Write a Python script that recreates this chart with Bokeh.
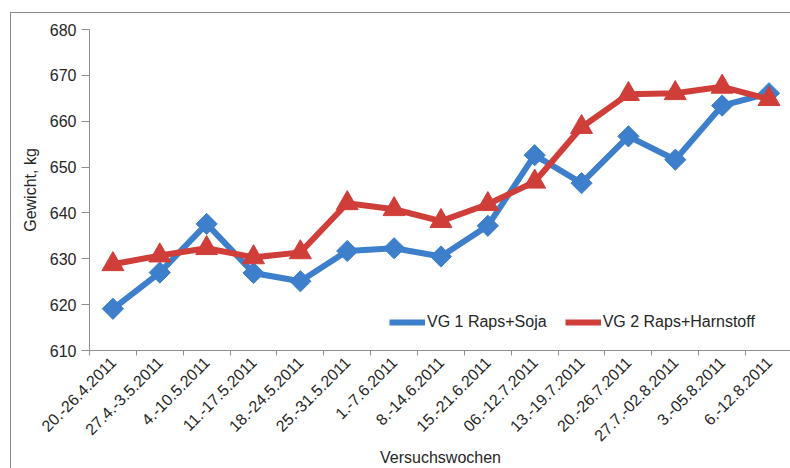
import numpy as np
from bokeh.plotting import figure
from bokeh.models import (ColumnDataSource, FixedTicker, Range1d, Legend, LegendItem)
from bokeh.embed import file_html
from bokeh.resources import INLINE

# Weekly periods of the feeding trial
weeks = ["20.-26.4.2011", "27.4.-3.5.2011", "4.-10.5.2011", "11.-17.5.2011",
         "18.-24.5.2011", "25.-31.5.2011", "1.-7.6.2011", "8.-14.6.2011",
         "15.-21.6.2011", "06.-12.7.2011", "13.-19.7.2011", "20.-26.7.2011",
         "27.7.-02.8.2011", "3.-05.8.2011", "6.-12.8.2011"]

# Mean body weight per group, kg
vg1_raps_soja = [619.1, 627.0, 637.6, 626.9, 625.1, 631.7, 632.3, 630.5,
                 637.2, 652.6, 646.5, 656.7, 651.6, 663.4, 666.1]
vg2_raps_harnstoff = [628.8, 630.7, 632.3, 630.3, 631.4, 642.1, 640.8, 638.2,
                      641.9, 646.8, 658.7, 665.9, 666.1, 667.5, 664.8]

y_ticks = [610, 620, 630, 640, 650, 660, 670, 680]

BLUE = "#3D7FCB"
RED = "#D03E3A"
TEXT = "#262626"
AXIS = "#8E8E8E"
FONT = "Liberation Sans"
FS = "16px"

n = len(weeks)
xc = [i + 0.5 for i in range(n)]
src = ColumnDataSource(dict(x=xc, vg1=vg1_raps_soja, vg2=vg2_raps_harnstoff))

p = figure(width=780, height=456, output_backend="svg", toolbar_location=None,
           x_range=Range1d(0, 14.98), y_range=Range1d(610, 680),
           min_border_left=78, min_border_right=0, min_border_top=16,
           min_border_bottom=10)
p.styles = {"margin-left": "10px", "margin-top": "12px",
            "border-left": "1px solid #8A8A8A", "border-top": "1px solid #8A8A8A"}
p.outline_line_color = None
p.grid.visible = False
p.background_fill_color = "white"
p.border_fill_color = "white"

# x axis: ticks between categories, labels at category centres
p.xaxis.ticker = FixedTicker(ticks=xc, minor_ticks=list(range(n + 1)))
p.xaxis.major_label_overrides = {x: w for x, w in zip(xc, weeks)}
p.xaxis.major_label_orientation = np.pi / 4
p.xaxis.major_tick_out = 0
p.xaxis.major_tick_in = 0
p.xaxis.minor_tick_out = 5
p.xaxis.minor_tick_in = 0
p.xaxis.minor_tick_line_color = AXIS
p.xaxis.axis_label = "Versuchswochen"
p.xaxis.axis_label_standoff = 0

p.yaxis.ticker = FixedTicker(ticks=y_ticks)
p.yaxis.minor_tick_line_color = None
p.yaxis.major_tick_out = 8
p.yaxis.major_tick_in = 0
p.yaxis.axis_label = "Gewicht, kg"
p.yaxis.axis_label_standoff = 8

for ax in (p.xaxis, p.yaxis):
    ax.axis_line_color = AXIS
    ax.major_tick_line_color = AXIS
    ax.major_label_text_font = FONT
    ax.major_label_text_font_size = FS
    ax.major_label_text_color = TEXT
    ax.axis_label_text_font = FONT
    ax.axis_label_text_font_size = FS
    ax.axis_label_text_font_style = "normal"
    ax.axis_label_text_color = TEXT
p.xaxis.major_label_standoff = 4
p.yaxis.major_label_standoff = 5

# Series
l1 = p.line("x", "vg1", source=src, line_color=BLUE, line_width=6)
p.scatter("x", "vg1", source=src, marker="square", angle=np.pi / 4, size=15,
          fill_color=BLUE, line_color=BLUE)
l2 = p.line("x", "vg2", source=src, line_color=RED, line_width=6)
p.scatter("x", "vg2", source=src, marker="triangle", size=22,
          fill_color=RED, line_color=RED)

# Small markers for the legend keys
empty = ColumnDataSource(dict(x=[], y=[]))
k1 = p.scatter("x", "y", source=empty, marker="square", angle=np.pi / 4, size=5,
               fill_color=BLUE, line_color=BLUE)
k2 = p.scatter("x", "y", source=empty, marker="triangle", size=8,
               fill_color=RED, line_color=RED)

legend = Legend(items=[LegendItem(label="VG 1 Raps+Soja", renderers=[l1, k1]),
                       LegendItem(label="VG 2 Raps+Harnstoff", renderers=[l2, k2])],
                orientation="horizontal", location=(300, 19),
                glyph_width=36, glyph_height=18, label_standoff=2, spacing=18,
                padding=0, margin=0, border_line_color=None,
                background_fill_alpha=0,
                label_text_font=FONT, label_text_font_size=FS,
                label_text_color=TEXT)
p.add_layout(legend, "center")

open("out.html", "w").write(file_html(p, INLINE))
